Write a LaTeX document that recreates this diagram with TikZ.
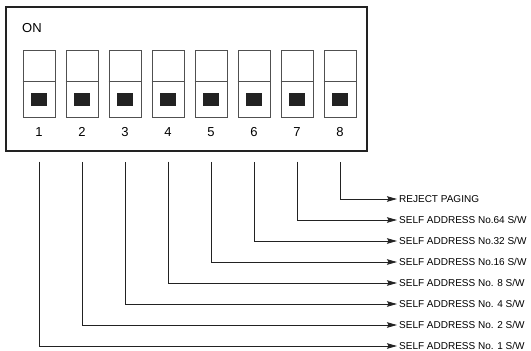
\documentclass[tikz,border=0pt]{standalone}
\usepackage{fontspec}
\setmainfont{Liberation Sans}
\usetikzlibrary{arrows.meta, positioning}
\definecolor{rahmen}{HTML}{222222}
\definecolor{strich}{HTML}{505050}

\begin{document}
\begin{tikzpicture}[
    x=1pt, y=-1pt,
    schalter/.style={draw=strich, line width=0.8pt, minimum width=32pt,
                     minimum height=67pt, inner sep=0pt},
    knopf/.style={fill=rahmen, minimum width=16pt, minimum height=13pt, inner sep=0pt},
    nummer/.style={font=\fontsize{13}{13}\selectfont, inner sep=0pt},
    beschr/.style={font=\fontsize{10}{11}\selectfont, anchor=west, inner sep=2pt,
                   text height=7.2pt, text depth=0pt},
    arr/.style={-{Stealth[length=10pt,width=5.5pt,inset=1.5pt]}, line width=0.7pt, rahmen},
    node distance=10.2pt
  ]
  \useasboundingbox (0,0) rectangle (531,351);
  \draw[rahmen, line width=1.6pt] (6,7) rectangle (367,151);
  \node[nummer, anchor=west] (on) at (22,28) {ON};

  \node[schalter] (sw1) at (38.9,83.5) {};
  \node[schalter, right=of sw1] (sw2) {};
  \node[schalter, right=of sw2] (sw3) {};
  \node[schalter, right=of sw3] (sw4) {};
  \node[schalter, right=of sw4] (sw5) {};
  \node[schalter, right=of sw5] (sw6) {};
  \node[schalter, right=of sw6] (sw7) {};
  \node[schalter, right=of sw7] (sw8) {};

  % Trennlinie, Knopf und Nummer je Schalter
  \foreach \i in {1,...,8} {
    \draw[strich, line width=0.8pt] ([yshift=-32pt]sw\i.north west) -- ([yshift=-32pt]sw\i.north east);
    \node[knopf] (k\i) at ([yshift=17.5pt]sw\i.south) {};
    \node[nummer, below=10pt of sw\i] (n\i) {\i};
  }

  \node[beschr] (l8) at (397,199) {REJECT PAGING};
  \node[beschr, below=21pt of l8.west, anchor=west] (l7) {SELF ADDRESS No.64 S/W};
  \node[beschr, below=21pt of l7.west, anchor=west] (l6) {SELF ADDRESS No.32 S/W};
  \node[beschr, below=21pt of l6.west, anchor=west] (l5) {SELF ADDRESS No.16 S/W};
  \node[beschr, below=21pt of l5.west, anchor=west] (l4) {SELF ADDRESS No. 8 S/W};
  \node[beschr, below=21pt of l4.west, anchor=west] (l3) {SELF ADDRESS No. 4 S/W};
  \node[beschr, below=21pt of l3.west, anchor=west] (l2) {SELF ADDRESS No. 2 S/W};
  \node[beschr, below=21pt of l2.west, anchor=west] (l1) {SELF ADDRESS No. 1 S/W};

  % Zuleitungen
  \foreach \i in {1,...,8}
    \draw[arr] ([yshift=-25pt]n\i.south) |- (l\i.west);
\end{tikzpicture}
\end{document}
